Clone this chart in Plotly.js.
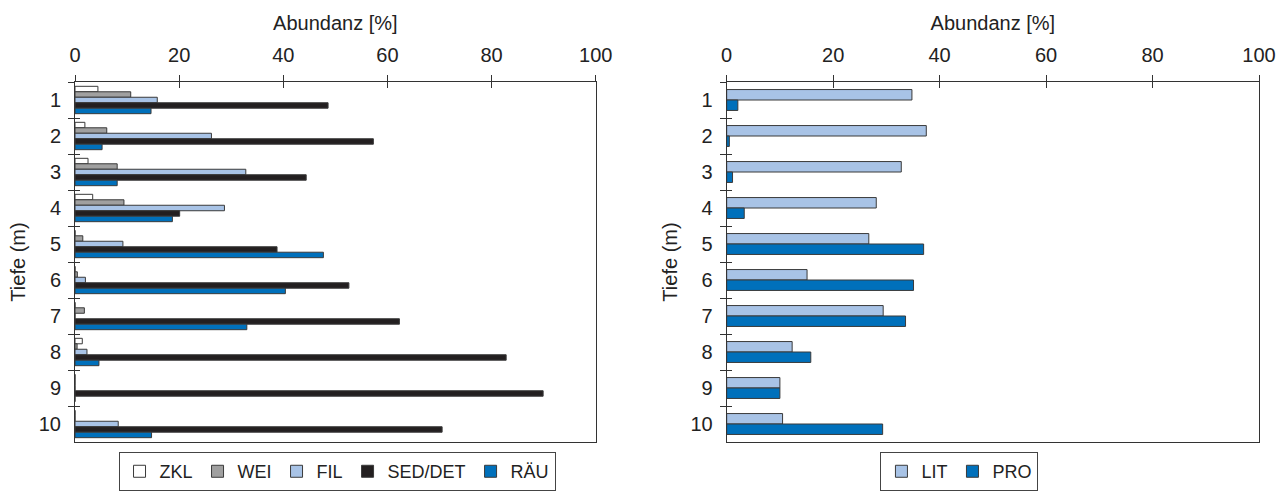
<!DOCTYPE html>
<html>
<head>
<meta charset="utf-8">
<script src="https://cdn.plot.ly/plotly-3.0.1.min.js"></script>
<style>
  html, body { margin: 0; padding: 0; background: #ffffff; }
  #chart { width: 1288px; height: 492px; }
</style>
</head>
<body>
<div id="chart"></div>
<script>
// Depth classes (m)
const depths = ['1', '2', '3', '4', '5', '6', '7', '8', '9', '10'];

// Feeding groups, abundance in % per depth
const zkl    = [4.4, 1.9, 2.5, 3.4, 0, 0, 0, 1.4, 0, 0];
const wei    = [10.7, 6.1, 8.1, 9.4, 1.5, 0.45, 1.8, 0.4, 0, 0];
const fil    = [15.8, 26.2, 32.8, 28.7, 9.2, 2.0, 0, 2.3, 0, 8.3];
const sedDet = [48.6, 57.3, 44.4, 20.1, 38.8, 52.6, 62.3, 82.8, 89.9, 70.5];
const rau    = [14.6, 5.2, 8.1, 18.7, 47.7, 40.4, 33.0, 4.6, 0, 14.7];

// Habitat groups, abundance in % per depth
const lit = [34.8, 37.5, 32.8, 28.1, 26.7, 15.1, 29.4, 12.3, 10.0, 10.5];
const pro = [2.1, 0.5, 1.1, 3.3, 37.0, 35.1, 33.6, 15.8, 10.0, 29.3];

const xTicks = [0, 20, 40, 60, 80, 100];
const seriesLeft = [
  { name: 'ZKL', values: zkl, color: '#ffffff' },
  { name: 'WEI', values: wei, color: '#a0a0a0' },
  { name: 'FIL', values: fil, color: '#a8c3e6' },
  { name: 'SED/DET', values: sedDet, color: '#231f20' },
  { name: 'RÄU', values: rau, color: '#0070bb' }
];
const seriesRight = [
  { name: 'LIT', values: lit, color: '#a8c3e6', offset: -0.29 },
  { name: 'PRO', values: pro, color: '#0070bb', offset: 0 }
];

const FONT = 'Liberation Sans, Arial, sans-serif';
const INK = '#333333';
const EDGE = '#3a3a3a';
const TXT = '#222222';
const FS = 20;

const traces = [];
seriesLeft.forEach(s => {
  traces.push({
    type: 'bar', orientation: 'h', name: s.name,
    x: s.values, y: depths, xaxis: 'x', yaxis: 'y',
    marker: { color: s.color, line: { color: EDGE, width: 1 } },
    legend: 'legend', hoverinfo: 'skip'
  });
});
seriesRight.forEach(s => {
  traces.push({
    type: 'bar', orientation: 'h', name: s.name,
    x: s.values, y: depths, xaxis: 'x2', yaxis: 'y2',
    width: 0.29, offset: s.offset,
    marker: { color: s.color, line: { color: EDGE, width: 1 } },
    legend: 'legend2', hoverinfo: 'skip'
  });
});

// Grid lines are dashed so that only a short stub shows inside the frame,
// which together with the outside ticks makes the tick marks cross the axis line.
const STUB = '6px,3000px';

function valueAxis(domain, anchor) {
  return {
    domain: domain, anchor: anchor, side: 'top', range: [0, 100],
    tickmode: 'array', tickvals: xTicks, ticktext: xTicks.map(String),
    ticks: 'outside', ticklen: 6, tickwidth: 1, tickcolor: INK,
    ticklabelstandoff: 5,
    showline: true, linecolor: INK, linewidth: 1, mirror: true,
    showgrid: true, gridcolor: INK, gridwidth: 1, griddash: STUB, zeroline: false,
    tickfont: { family: FONT, size: FS, color: TXT },
    title: { text: 'Abundanz [%]', font: { family: FONT, size: FS, color: TXT }, standoff: 8 }
  };
}
function depthAxis(anchor) {
  return {
    anchor: anchor, type: 'category', categoryorder: 'array', categoryarray: depths,
    range: [9.5, -0.5], tickson: 'boundaries',
    ticks: 'outside', ticklen: 6, tickwidth: 1, tickcolor: INK,
    ticklabelstandoff: 9,
    showline: true, linecolor: INK, linewidth: 1, mirror: true,
    showgrid: true, gridcolor: INK, gridwidth: 1, griddash: '5px,3000px', zeroline: false,
    tickfont: { family: FONT, size: FS, color: TXT },
    title: { text: 'Tiefe (m)', font: { family: FONT, size: FS, color: TXT }, standoff: 7 }
  };
}

const legendStyle = {
  orientation: 'h', xanchor: 'center', yanchor: 'top',
  bordercolor: '#444444', borderwidth: 1, bgcolor: '#ffffff',
  font: { family: FONT, size: 18, color: TXT },
  itemclick: false, itemdoubleclick: false, traceorder: 'normal'
};

const layout = {
  width: 1288, height: 492,
  margin: { l: 75, r: 29, t: 82, b: 50, autoexpand: false },
  paper_bgcolor: '#ffffff', plot_bgcolor: '#ffffff',
  barmode: 'group', bargap: 0.24, bargroupgap: 0,
  showlegend: true,
  font: { family: FONT, color: TXT },
  xaxis: valueAxis([0, 0.4398], 'y'),
  yaxis: depthAxis('x'),
  xaxis2: valueAxis([0.5504, 1], 'y2'),
  yaxis2: depthAxis('x2'),
  legend: Object.assign({ x: 0.2213, y: -0.028 }, legendStyle),
  legend2: Object.assign({ x: 0.747, y: -0.028 }, legendStyle),
  hovermode: false
};

Plotly.newPlot('chart', traces, layout, { staticPlot: true, displayModeBar: false });
</script>
</body>
</html>
